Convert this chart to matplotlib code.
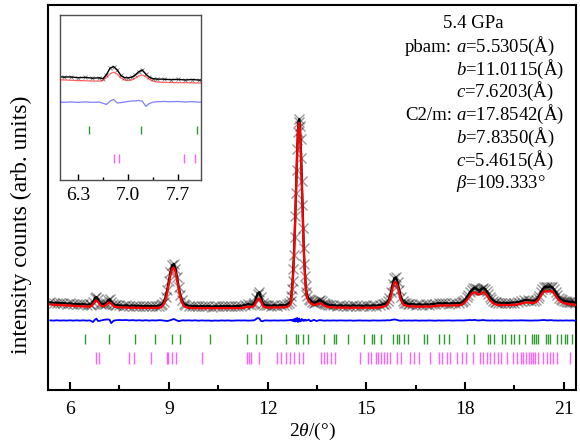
import matplotlib
matplotlib.use("Agg")
import matplotlib.pyplot as plt
from matplotlib.ticker import MultipleLocator, FixedLocator

plt.rcParams["font.family"] = ["Liberation Serif", "DejaVu Serif"]
plt.rcParams["mathtext.fontset"] = "custom"
plt.rcParams["mathtext.rm"] = "Liberation Serif"
plt.rcParams["mathtext.it"] = "Liberation Serif:italic"

# 2theta sampling of the pattern (deg)
two_theta = [
    5.40, 5.50, 5.60, 5.70, 5.80, 5.90, 6.00, 6.10, 6.20, 6.30, 6.40, 6.50, 6.60,
    6.65, 6.70, 6.75, 6.80, 6.85, 6.90, 6.95, 7.00, 7.05, 7.10, 7.15, 7.20, 7.25, 7.30, 7.35, 7.40,
    7.50, 7.60, 7.70, 7.80, 7.90, 8.00, 8.10, 8.20, 8.30, 8.40, 8.50, 8.60, 8.70,
    8.75, 8.80, 8.85, 8.90, 8.95, 9.00, 9.05, 9.10, 9.15, 9.20, 9.25, 9.30, 9.35, 9.40, 9.45, 9.50,
    9.60, 9.70, 9.80, 9.90, 10.00, 10.10, 10.20, 10.30, 10.40, 10.50, 10.60, 10.70, 10.80, 10.90,
    11.00, 11.10, 11.20, 11.30, 11.40, 11.50,
    11.55, 11.60, 11.65, 11.70, 11.75, 11.80, 11.85, 11.90, 11.95,
    12.00, 12.10, 12.20, 12.30, 12.40, 12.50, 12.60, 12.65, 12.70,
    12.72, 12.74, 12.76, 12.78, 12.80, 12.82, 12.84, 12.86, 12.88, 12.90, 12.92, 12.94, 12.96,
    12.98, 13.00, 13.02, 13.04, 13.06, 13.08, 13.10, 13.12, 13.14, 13.16, 13.18, 13.20,
    13.25, 13.30, 13.35, 13.40, 13.45, 13.50, 13.55, 13.60, 13.65, 13.70, 13.75, 13.80, 13.85, 13.90,
    14.00, 14.10, 14.20, 14.30, 14.40, 14.50, 14.60, 14.70, 14.80, 14.90, 15.00, 15.10, 15.20, 15.30, 15.40, 15.50,
    15.55, 15.60, 15.65, 15.70, 15.75, 15.80, 15.85, 15.90, 15.95, 16.00, 16.05, 16.10, 16.15, 16.20, 16.25, 16.30,
    16.40, 16.50, 16.60, 16.70, 16.80, 16.90, 17.00, 17.10, 17.20, 17.30, 17.40, 17.50, 17.60, 17.70, 17.80, 17.90,
    17.95, 18.00, 18.05, 18.10, 18.15, 18.20, 18.25, 18.30, 18.35, 18.40, 18.45, 18.50, 18.55, 18.60, 18.65,
    18.70, 18.75, 18.80, 18.85, 18.90, 18.95,
    19.00, 19.10, 19.20, 19.30, 19.40, 19.50, 19.60, 19.70, 19.80, 19.90, 20.00, 20.10,
    20.15, 20.20, 20.25, 20.30, 20.35, 20.40, 20.45, 20.50, 20.55, 20.60, 20.65, 20.70, 20.75, 20.80,
    20.85, 20.90, 20.95, 21.00,
    21.05, 21.10, 21.15, 21.20, 21.25, 21.30, 21.35,
]

y_obs = [
    87.6, 87.2, 87.3, 86.9, 86.9, 86.5, 86.6, 86.1, 86.2, 85.7, 85.9, 85.4, 85.6,
    85.0, 87.8, 92.0, 93.0, 90.8, 87.2, 85.8, 85.6, 86.0, 87.4, 89.6, 90.8, 88.0, 86.0, 85.0, 84.8,
    84.7, 84.4, 84.6, 84.2, 84.5, 84.1, 84.3, 83.9, 84.2, 83.8, 84.1, 83.9, 84.4,
    84.9, 86.0, 88.5, 93.0, 100.0, 109.0, 118.0, 124.8, 126.0, 121.5, 112.8, 103.0, 95.0, 89.6, 86.5, 85.0,
    84.4, 83.8, 84.1, 83.6, 84.0, 83.7, 83.9, 83.5, 83.8, 83.6, 84.0, 83.7, 84.0, 83.6,
    83.9, 84.1, 84.2, 85.0, 85.8, 85.4,
    85.6, 87.5, 92.0, 96.5, 97.8, 92.8, 87.2, 85.0, 84.6,
    84.6, 84.4, 84.8, 84.5, 84.9, 84.8, 85.6, 86.8, 88.8,
    94.0, 101.0, 109.0, 121.0, 135.0, 153.0, 174.0, 197.0, 220.0, 241.0, 258.0, 268.0, 271.0,
    264.0, 251.0, 232.0, 209.0, 185.0, 162.0, 142.0, 126.0, 114.0, 104.0, 98.0, 94.0,
    91.5, 89.6, 88.2, 87.5, 87.6, 88.4, 89.4, 89.6, 88.6, 87.4, 86.3, 85.6, 85.2, 84.9,
    84.8, 84.4, 84.6, 84.3, 84.5, 84.2, 84.6, 84.3, 84.5, 84.1, 84.6, 84.3, 84.6, 84.5, 84.8, 85.8,
    85.8, 86.8, 88.6, 92.0, 98.5, 106.0, 111.8, 112.6, 107.6, 99.8, 92.8, 89.0, 87.3, 86.8, 86.2, 86.1,
    85.9, 85.5, 85.7, 85.4, 85.6, 85.5, 85.9, 86.2, 86.8, 86.6, 86.9, 86.5, 86.8, 86.7, 87.0, 87.6,
    88.6, 90.4, 92.8, 95.4, 98.0, 100.2, 101.6, 102.0, 101.0, 99.6, 99.8, 101.2, 102.0, 101.2, 99.2,
    96.2, 93.2, 91.0, 89.4, 88.3, 87.8,
    87.4, 87.1, 87.3, 87.0, 87.4, 87.5, 88.0, 88.6, 89.8, 89.9, 89.5, 89.4,
    90.4, 91.8, 94.4, 97.6, 100.6, 102.8, 103.4, 103.0, 103.2, 103.4, 102.6, 100.6, 97.8, 94.8,
    92.4, 90.8, 89.8, 89.2,
    88.8, 88.5, 88.3, 88.0, 87.8, 87.7, 87.5,
]

y_calc = [
    85.5, 85.3, 85.1, 85.0, 84.8, 84.6, 84.4, 84.2, 84.0, 83.8, 83.7, 83.5, 83.4,
    84.0, 85.8, 88.2, 89.4, 88.0, 85.6, 84.2, 83.8, 84.2, 85.3, 86.8, 87.5, 86.4, 84.6, 83.4, 82.9,
    82.6, 82.5, 82.4, 82.4, 82.3, 82.2, 82.1, 82.1, 82.0, 82.0, 82.0, 82.1, 82.3,
    82.8, 83.8, 86.1, 90.5, 97.3, 106.2, 115.1, 121.3, 122.4, 118.1, 109.9, 100.7, 92.9, 87.6, 84.5, 83.0,
    82.3, 82.0, 81.9, 81.8, 81.8, 81.8, 81.7, 81.7, 81.7, 81.7, 81.7, 81.8, 81.8, 81.8,
    81.8, 81.9, 82.0, 82.4, 83.2, 83.0,
    83.4, 84.6, 87.4, 90.6, 91.7, 88.6, 84.6, 83.0, 82.5,
    82.4, 82.5, 82.5, 82.6, 82.6, 82.7, 83.2, 84.2, 86.0,
    92.0, 98.0, 106.0, 117.0, 131.0, 149.0, 170.0, 193.0, 216.5, 238.0, 254.7, 265.1, 267.2,
    260.8, 247.2, 227.6, 204.8, 180.9, 158.1, 138.0, 123.0, 111.0, 102.0, 96.0, 92.0,
    89.0, 87.0, 85.8, 85.0, 85.2, 85.8, 86.5, 86.7, 86.0, 85.0, 84.0, 83.4, 83.0, 82.8,
    82.5, 82.4, 82.3, 82.3, 82.2, 82.2, 82.2, 82.2, 82.2, 82.2, 82.3, 82.3, 82.3, 82.4, 82.5, 83.2,
    83.6, 84.5, 86.0, 89.2, 95.0, 102.2, 107.5, 108.0, 103.5, 96.3, 90.0, 86.5, 85.0, 84.5, 84.1, 83.9,
    83.6, 83.4, 83.3, 83.3, 83.3, 83.4, 83.6, 84.0, 84.4, 84.5, 84.5, 84.5, 84.5, 84.6, 84.7, 85.2,
    86.3, 87.8, 89.8, 92.0, 94.2, 96.2, 97.4, 97.7, 96.8, 95.3, 95.6, 96.9, 97.7, 97.0, 95.2,
    92.6, 90.0, 88.3, 86.9, 86.0, 85.5,
    85.1, 85.0, 84.9, 84.9, 85.0, 85.2, 85.6, 86.3, 87.4, 87.6, 87.1, 87.0,
    88.0, 89.2, 91.4, 94.2, 96.8, 98.5, 99.0, 98.6, 98.8, 99.0, 98.4, 96.6, 94.2, 91.8,
    89.9, 88.6, 87.6, 86.9,
    86.5, 86.2, 85.9, 85.7, 85.5, 85.3, 85.2,
]

# difference curve, plotted with its offset below the pattern
y_diff = [
    69.6, 69.4, 69.7, 69.4, 69.6, 69.4, 69.7, 69.4, 69.7, 69.4, 69.7, 69.4, 69.6,
    68.8, 68.0, 70.2, 71.3, 69.0, 69.2, 69.6, 70.0, 70.3, 70.4, 70.6, 70.2, 66.8, 68.7, 69.5, 69.8,
    70.0, 69.8, 70.0, 69.6, 69.9, 69.5, 69.8, 69.4, 69.8, 69.4, 69.7, 69.5, 69.8,
    69.8, 69.6, 69.5, 69.3, 69.0, 69.4, 69.8, 70.5, 71.0, 70.2, 69.5, 68.8, 69.2, 69.6, 69.7, 69.5,
    69.7, 69.4, 69.7, 69.3, 69.6, 69.4, 69.5, 69.2, 69.5, 69.3, 69.6, 69.4, 69.6, 69.3,
    69.5, 69.6, 69.5, 69.6, 69.4, 69.5,
    69.6, 69.8, 71.0, 72.0, 71.5, 69.0, 68.8, 69.5, 69.6,
    69.5, 69.4, 69.6, 69.4, 69.6, 69.5, 69.7, 69.8, 70.2,
    69.5, 70.0, 69.2, 70.5, 68.8, 71.0, 68.5, 71.5, 69.0, 72.0, 68.0, 70.5, 71.5,
    68.5, 70.0, 69.0, 71.0, 69.5, 70.2, 69.0, 69.8, 70.3, 69.4, 69.8, 69.5,
    70.5, 68.8, 69.2, 70.2, 69.5, 69.0, 69.7, 69.9, 69.6, 69.5, 69.3, 69.6, 69.5, 69.4,
    69.6, 69.4, 69.6, 69.5, 69.4, 69.6, 69.3, 69.5, 69.6, 69.4, 69.5, 69.3, 69.6, 69.5, 69.4, 69.6,
    69.5, 69.6, 69.8, 69.6, 69.9, 70.2, 70.6, 70.3, 69.8, 69.4, 69.3, 69.5, 69.6, 69.4, 69.5, 69.5,
    69.4, 69.6, 69.3, 69.5, 69.4, 69.6, 69.5, 69.3, 69.6, 69.4, 69.5, 69.6, 69.4, 69.5, 69.6, 69.5,
    69.5, 69.6, 69.8, 69.9, 70.0, 69.8, 69.9, 70.1, 69.7, 69.5, 69.6, 69.8, 70.0, 69.7, 69.5,
    69.6, 69.4, 69.6, 69.5, 69.4, 69.6,
    69.5, 69.4, 69.6, 69.5, 69.4, 69.6, 69.5, 69.7, 69.6, 69.5, 69.4, 69.6,
    69.6, 69.5, 69.7, 69.8, 69.9, 70.0, 69.8, 69.6, 69.7, 69.9, 69.7, 69.5, 69.6, 69.4,
    69.5, 69.6, 69.4, 69.5,
    69.5, 69.6, 69.4, 69.5, 69.6, 69.4, 69.5,
]

# Bragg reflection positions (deg)
pbam_pos = [6.45, 7.18, 7.96, 8.57, 9.11, 9.34, 10.24, 11.36, 11.64, 11.79, 12.55, 12.87,
            12.93, 13.08, 13.23, 13.71, 14.02, 14.08, 14.43, 14.94, 15.18, 15.23, 15.44,
            15.80, 15.94, 15.99, 16.13, 16.27, 16.75, 16.83, 17.21, 17.36, 17.51, 18.05,
            18.28, 18.68, 18.76, 18.88, 19.11, 19.22, 19.38, 19.50, 19.64, 19.82, 20.02,
            20.08, 20.15, 20.22, 20.46, 20.52, 20.58, 20.78, 20.90, 21.02, 21.08, 21.25]
c2m_pos = [6.80, 6.88, 7.78, 7.94, 8.45, 8.93, 8.98, 9.09, 9.21, 10.02, 11.38, 11.44,
           11.50, 11.73, 12.28, 12.42, 12.55, 12.69, 12.80, 12.94, 13.08, 13.61, 13.71,
           13.81, 13.92, 14.05, 14.81, 15.06, 15.14, 15.28, 15.36, 15.44, 15.54, 15.64,
           15.72, 15.92, 16.04, 16.32, 16.45, 16.60, 16.93, 17.21, 17.31, 17.44, 17.54,
           17.74, 17.92, 18.03, 18.25, 18.45, 18.55, 18.67, 18.76, 18.88, 18.99, 19.08,
           19.26, 19.46, 19.58, 19.69, 19.77, 19.85, 19.93, 20.00, 20.07, 20.13, 20.21,
           20.37, 20.49, 20.58, 20.68, 20.78, 21.18]

lattice_labels = ["pbam:", "", "", "C2/m:", "", "", ""]
lattice_values = [r"$a$=5.5305(Å)", r"$b$=11.0115(Å)", r"$c$=7.6203(Å)",
                  r"$a$=17.8542(Å)", r"$b$=7.8350(Å)", r"$c$=5.4615(Å)",
                  r"$\beta$=109.333°"]

green = "#2f9a2f"
magenta = "#ff44ff"

fig = plt.figure(figsize=(5.8, 4.47), dpi=100)
ax = fig.add_axes([0.0828, 0.1275, 0.9104, 0.8613])

ax.plot(two_theta, y_obs, color="black", lw=1.6, zorder=2)
ax.plot(two_theta, y_obs, ls="none", marker="x", ms=7, mew=1.0,
        color="black", alpha=0.4, zorder=2)
ax.plot(two_theta, y_calc, color="red", lw=1.6, zorder=3)
ax.plot(two_theta, y_diff, color="blue", lw=1.3, zorder=3)
ax.vlines(pbam_pos, 46, 56, color=green, lw=1.0)
ax.vlines(c2m_pos, 26, 38, color=magenta, lw=1.0, alpha=0.85)

ax.set_xlim(5.33, 21.37)
ax.set_ylim(0, 385)
ax.xaxis.set_major_locator(MultipleLocator(3))
ax.xaxis.set_minor_locator(MultipleLocator(1.5))
ax.set_yticks([])
ax.tick_params(axis="x", which="major", direction="in", length=6, width=1.5,
               labelsize=14, pad=8)
ax.tick_params(axis="x", which="minor", direction="in", length=3.5, width=1.5)
for s in ax.spines.values():
    s.set_linewidth(1.5)
ax.set_xlabel(r"2$\theta$/(°)", fontsize=14, labelpad=2)
ax.set_ylabel("intensity counts (arb. units)", fontsize=17)
ax.yaxis.set_label_coords(-0.030, 0.43)

# lattice parameters
ax.text(0.805, 0.940, "5.4 GPa", transform=ax.transAxes, fontsize=13.5,
        ha="center", va="baseline")
ys = [0.878, 0.819, 0.760, 0.701, 0.642, 0.583, 0.524]
for lab, val, yy in zip(lattice_labels, lattice_values, ys):
    if lab:
        ax.text(0.765, yy, lab, transform=ax.transAxes, fontsize=13.5,
                ha="right", va="baseline")
    ax.text(0.773, yy, val, transform=ax.transAxes, fontsize=13.5,
            ha="left", va="baseline")

# zoomed inset
ins = fig.add_axes([0.1034, 0.597, 0.243, 0.369])
ins.plot(two_theta, y_obs, color="black", lw=1.0, zorder=2)
ins.plot(two_theta, y_obs, ls="none", marker="x", ms=3, mew=0.6,
         color="black", alpha=0.5, zorder=2)
ins.plot(two_theta, y_calc, color="red", lw=0.9, alpha=0.6, zorder=3)
ins.plot(two_theta, y_diff, color="blue", lw=0.9, alpha=0.5, zorder=3)
ins.vlines(pbam_pos, 48.5, 53.5, color=green, lw=1.0)
ins.vlines(c2m_pos, 29, 35, color=magenta, lw=1.0, alpha=0.85)
ins.set_xlim(6.05, 8.02)
ins.set_ylim(18, 127)
ins.xaxis.set_major_locator(FixedLocator([6.3, 7.0, 7.7]))
ins.xaxis.set_minor_locator(FixedLocator([6.65, 7.35]))
ins.set_xticklabels(["6.3", "7.0", "7.7"])
ins.set_yticks([])
ins.tick_params(axis="x", which="major", direction="in", length=4, width=1,
                labelsize=14, pad=5)
ins.tick_params(axis="x", which="minor", direction="in", length=2.5, width=1)
for s in ins.spines.values():
    s.set_linewidth(1.0)
    s.set_color("0.3")

fig.savefig("out.png", dpi=100)
